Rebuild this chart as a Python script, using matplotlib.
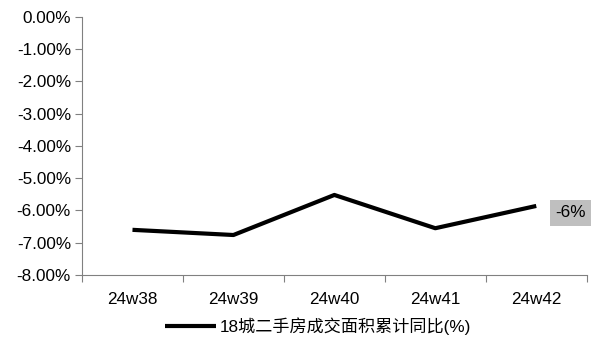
import matplotlib.pyplot as plt
from matplotlib.ticker import FuncFormatter, FixedLocator

plt.rcParams['font.family'] = ['Liberation Sans', 'Noto Sans CJK SC']

weeks = ['24w38', '24w39', '24w40', '24w41', '24w42']
yoy = [-6.60, -6.76, -5.52, -6.55, -5.86]
series_name = '18城二手房成交面积累计同比(%)'

fig = plt.figure(figsize=(6.03, 3.40), dpi=100)
ax = fig.add_axes([0.136, 0.191, 0.837, 0.760])

x = list(range(len(weeks)))
ax.plot(x, yoy, color='black', lw=3, solid_capstyle='butt', label=series_name)

ax.set_xlim(-0.5, len(weeks) - 0.5)
ax.set_ylim(-8, 0)
ax.set_yticks(range(-8, 1))
ax.yaxis.set_major_formatter(FuncFormatter(lambda v, p: '%.2f%%' % v))

# category labels in the middle, tick marks between categories
ax.xaxis.set_major_locator(FixedLocator([i - 0.5 for i in range(len(weeks) + 1)]))
ax.xaxis.set_minor_locator(FixedLocator(x))
ax.set_xticklabels([''] * (len(weeks) + 1))
ax.set_xticklabels(weeks, minor=True)
ax.tick_params(axis='x', which='minor', length=0, pad=12, labelsize=12.3)
ax.tick_params(axis='x', which='major', length=5, color='#808080', direction='out')
ax.tick_params(axis='y', length=5, color='#808080', labelsize=12.3, pad=3)

for s in ['top', 'right']:
    ax.spines[s].set_visible(False)
for s in ['left', 'bottom']:
    ax.spines[s].set_color('#808080')

ax.annotate('%d%%' % round(yoy[-1]), xy=(x[-1], yoy[-1]), xytext=(34, -7),
            textcoords='offset pixels', ha='center', va='center', fontsize=12.3,
            bbox=dict(boxstyle='square,pad=0.3', fc='#bfbfbf', ec='none'))

fig.legend(loc='center', bbox_to_anchor=(318 / 603, 1 - 326 / 340), frameon=False,
           fontsize=12.3, handlelength=3.0, handletextpad=0.2)

fig.savefig('out.png')
